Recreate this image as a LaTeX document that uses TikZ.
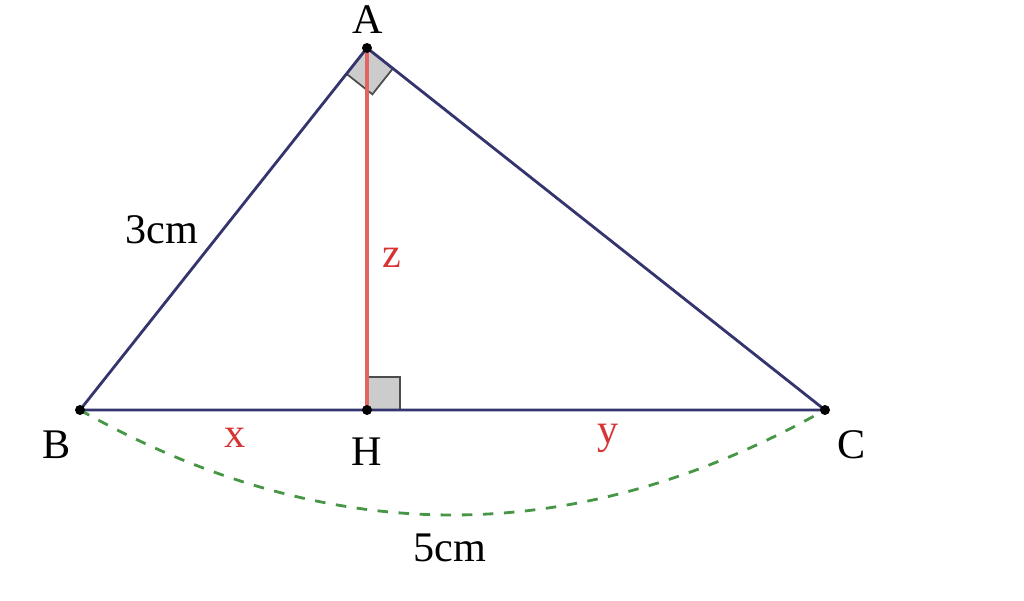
\documentclass[tikz,border=0pt]{standalone}
\usepackage{fontspec}
\setmainfont{Liberation Serif}
\usetikzlibrary{calc}
\definecolor{side}{RGB}{52,52,110}
\definecolor{alt}{RGB}{226,100,100}
\definecolor{lbl}{RGB}{214,52,52}
\definecolor{arcgreen}{RGB}{70,150,70}
\tikzset{
  dot/.style={circle,fill=black,inner sep=0pt,minimum size=0.1cm},
  rightmark/.style={fill=gray!40,draw=gray!60!black,line width=0.5pt},
  redlbl/.style={text=lbl},
}
\begin{document}
\begin{tikzpicture}[font=\fontsize{12}{14}\selectfont]
\useasboundingbox (0,0) rectangle (10.24,6.01);

\coordinate (A) at (3.67,5.53);
\coordinate (B) at (0.80,1.91);
\coordinate (H) at (3.67,1.91);
\coordinate (C) at (8.25,1.91);

% right angles
\coordinate (Ab) at ($(A)!0.33cm!(B)$);
\coordinate (Ac) at ($(A)!0.33cm!(C)$);
\filldraw[rightmark] (A) -- (Ab) -- ($(Ab)+(Ac)-(A)$) -- (Ac) -- cycle;
\coordinate (Hc) at ($(H)!0.33cm!(C)$);
\coordinate (Ha) at ($(H)!0.33cm!(A)$);
\filldraw[rightmark] (H) -- (Hc) -- ($(Hc)+(Ha)-(H)$) -- (Ha) -- cycle;

% outline
\draw[side,line width=0.8pt] (A) -- (B) -- (C) -- cycle;
\draw[alt,line width=0.9pt] (A) -- (H);
\draw[arcgreen,dashed,line width=0.8pt] (B) .. controls (3.28,0.51) and (5.76,0.51) .. (C);

% points
\foreach \p in {A,B,H,C} \node[dot] (dot\p) at (\p) {};

% labels
\node (lA) at (3.68,5.81) {A};
\node (lB) at (0.57,1.56) {B};
\node (lH) at (3.67,1.49) {H};
\node (lC) at (8.52,1.56) {C};
\node (lAB) at (1.62,3.71) {3cm};
\node (lBC) at (4.50,0.53) {5cm};
\node[redlbl] (lz) at (3.92,3.43) {z};
\node[redlbl] (lx) at (2.35,1.63) {x};
\node[redlbl] (ly) at (6.08,1.63) {y};
\end{tikzpicture}
\end{document}
